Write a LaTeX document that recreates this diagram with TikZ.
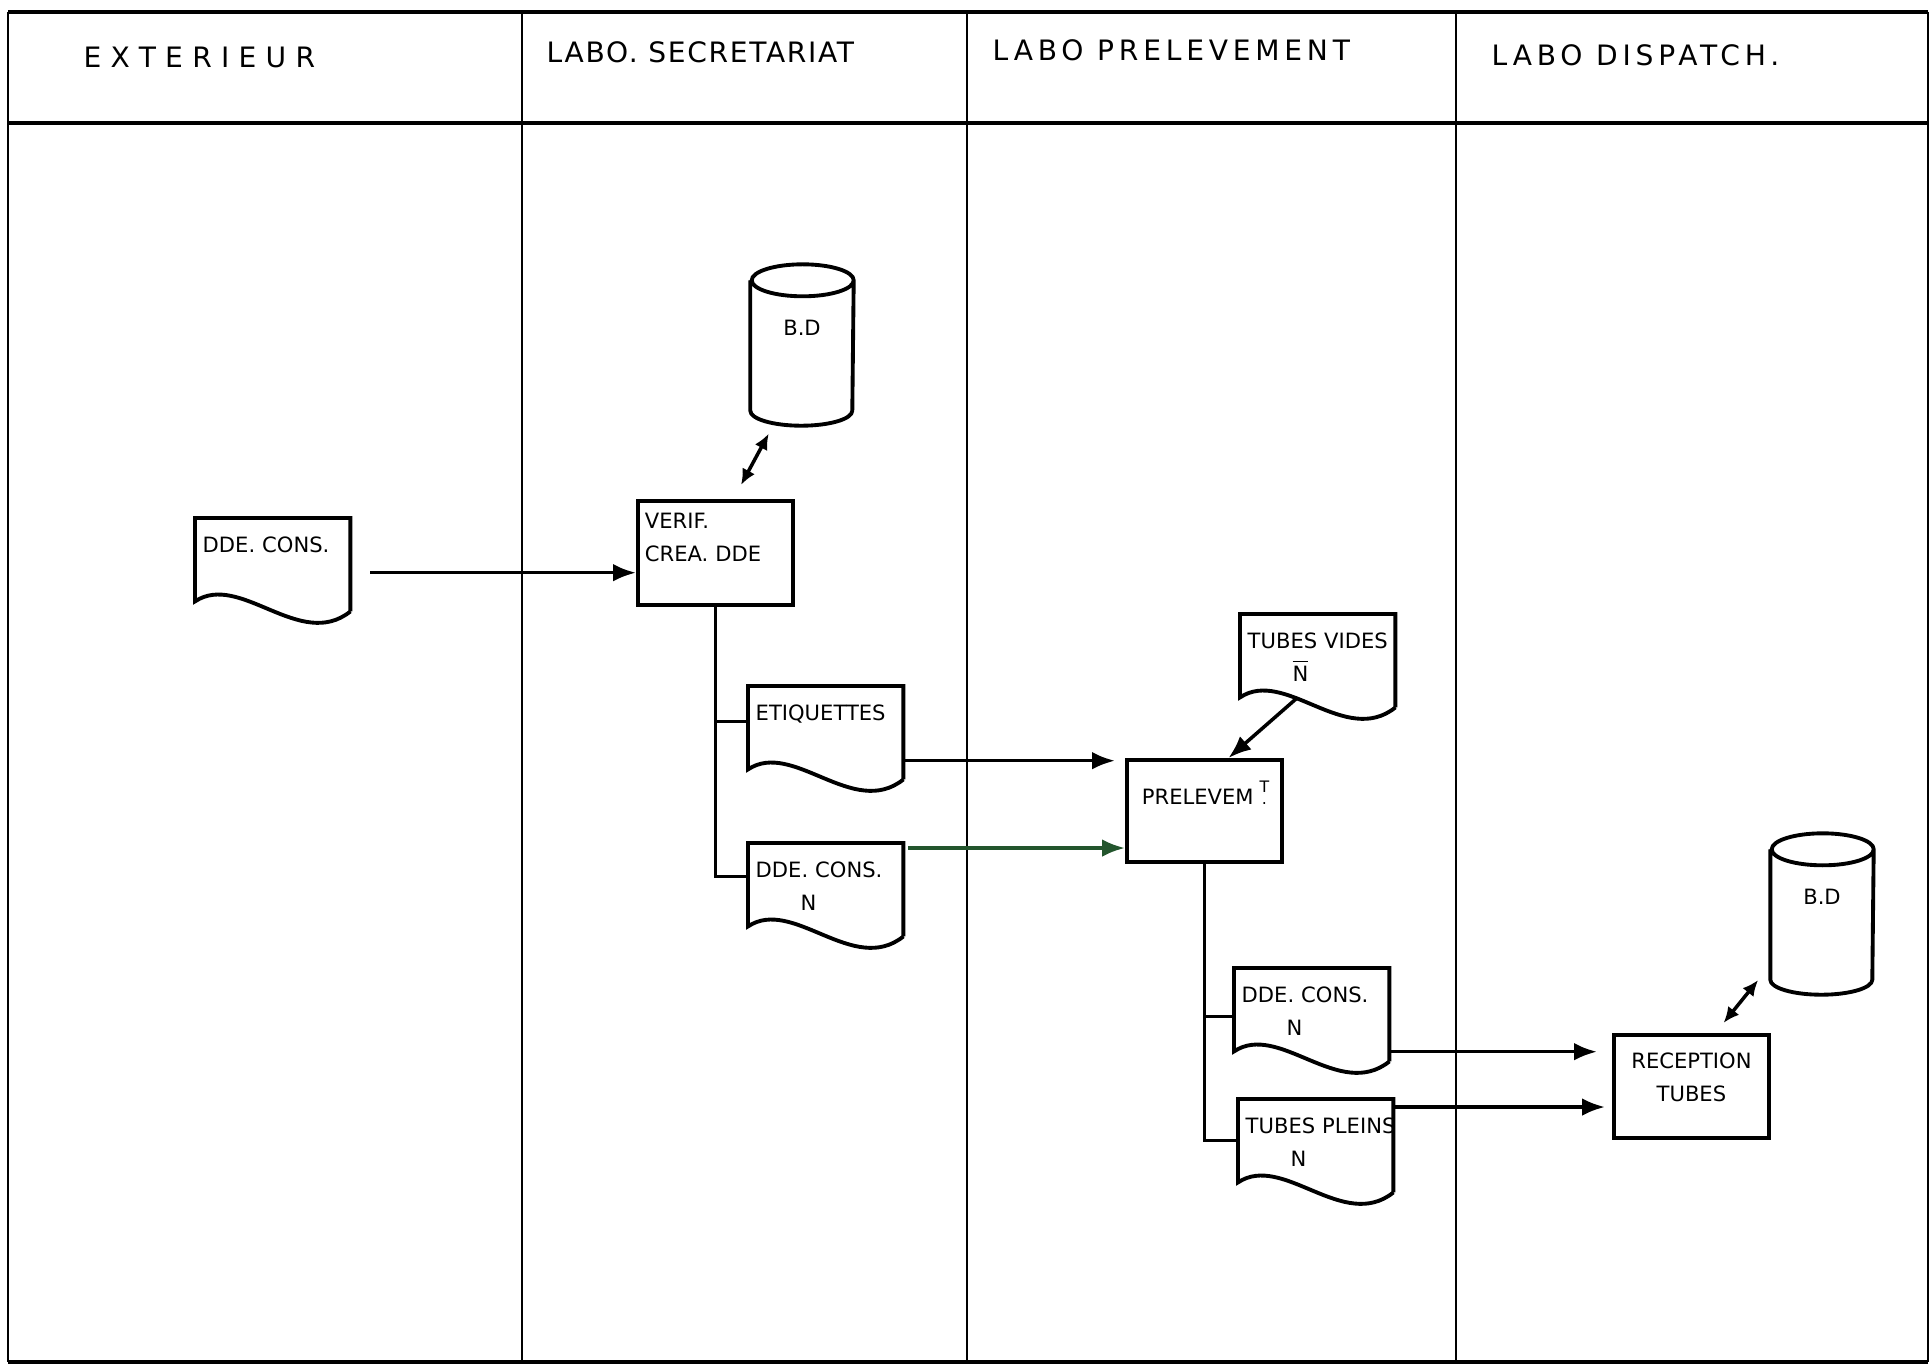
\documentclass[tikz,border=0pt]{standalone}
\usepackage{fontspec}
\setmainfont{DejaVu Sans}
\newfontfamily\lanefont[LetterSpace=17]{DejaVu Sans}
\usetikzlibrary{arrows.meta}
\definecolor{inkgreen}{RGB}{35,85,45}
\newcommand{\chartfont}{\fontsize{6}{9.4}\selectfont}

% document symbol: straight top, wavy bottom
\newcommand{\docline}[1]{%
  \draw[outline] ([yshift=-1mm]#1.south east) -- (#1.north east) -- (#1.north west)
    -- (#1.south west) .. controls +(4.5mm,3mm) and +(-5mm,-4mm) .. ([yshift=-1mm]#1.south east);}
% data base symbol
\newcommand{\dbline}[1]{%
  \draw[outline] ([yshift=-1.6mm]#1.north west) -- ([yshift=1.5mm]#1.south west)
    arc[start angle=180, end angle=360, x radius=5.1mm, y radius=1.5mm]
    -- ([yshift=-1.6mm]#1.north east)
    arc[start angle=0, end angle=360, x radius=5.1mm, y radius=1.6mm];}

\begin{document}
\begin{tikzpicture}[x=0.1mm, y=-0.1mm, >={Latex[length=6.5pt,width=5pt]},
  frame/.style={line width=0.7pt},
  heavy/.style={line width=1.4pt},
  outline/.style={line width=1.1pt},
  link/.style={line width=1pt},
  flow/.style={line width=1pt, ->},
  both/.style={line width=1pt, {Latex[length=4.5pt,width=4pt]}-{Latex[length=4.5pt,width=4pt]}},
  lane/.style={anchor=west, inner sep=0pt, font=\lanefont\fontsize{8}{9}\selectfont},
  doc/.style={anchor=north west, inner xsep=0.7mm, inner ysep=0pt, text width=14mm,
    text height=3.4mm, text depth=4.8mm, align=left, font=\chartfont},
  proc/.style={draw, line width=1.1pt, anchor=north west, inner xsep=0.7mm, inner ysep=0pt,
    text width=14.1mm, font=\chartfont},
  store/.style={inner sep=0pt, minimum width=10.2mm, text height=7mm, text depth=9mm,
    font=\chartfont}]
  \useasboundingbox (0,0) rectangle (1932,1366);

  % swim lanes
  \draw[heavy] (8,12) -- (1928,12);
  \draw[heavy] (8,123) -- (1928,123);
  \draw[heavy] (8,1362) -- (1928,1362);
  \draw[frame] (8,12) -- (8,1362);
  \draw[frame] (1928,12) -- (1928,1362);
  \foreach \x in {522,967,1456}
    \draw[frame] (\x,12) -- (\x,1362);

  \node[lane] (ext) at (83,57) {\addfontfeature{LetterSpace=33}EXTERIEUR};
  \node[lane] (secr) at (546,52) {\addfontfeature{LetterSpace=6}LABO. SECRETARIAT};
  \node[lane] (prel) at (992,50) {LABO PRELEVEMENT};
  \node[lane] (disp) at (1491,55) {LABO DISPATCH.};

  % symbols
  \node[doc] (dde1) at (195,518) {DDE. CONS.};
  \node[proc, text height=2.8mm, text depth=7.6mm, align=left] (verif) at (636,499) {VERIF.\\CREA. DDE};
  \node[store] (bd1) at (802,345) {B.D};
  \node[doc] (etiq) at (748,686) {ETIQUETTES};
  \node[doc] (dde2) at (748,843) {DDE. CONS.\\\hspace*{4.5mm}N};
  \node[proc, text height=4.5mm, text depth=5.7mm, align=left] (prelev) at (1125,758)
    {\hspace*{0.8mm}PRELEVEM\hspace{0.6mm}{\fontsize{4.5}{4.2}\selectfont\shortstack{T\\.}}};
  \node[doc] (tvides) at (1240,614) {TUBES~VIDES\\\hspace*{4.5mm}$\overline{\mbox{N}}$};
  \node[doc] (dde3) at (1234,968) {DDE. CONS.\\\hspace*{4.5mm}N};
  \node[doc] (tpleins) at (1238,1099) {TUBES~PLEINS\\\hspace*{4.5mm}N};
  \node[proc, text height=3.4mm, text depth=6.9mm, align=center] (recep) at (1612,1033) {RECEPTION\\TUBES};
  \node[store] (bd2) at (1822,914) {B.D};

  \docline{dde1}
  \docline{etiq}
  \docline{dde2}
  \docline{tvides}
  \docline{dde3}
  \docline{tpleins}
  \dbline{bd1}
  \dbline{bd2}

  % flows
  \draw[flow] ([xshift=2mm,yshift=-1.3mm]dde1.east) -- ([yshift=-1.3mm]dde1.east -| verif.west);
  \draw[both, shorten <=1.6mm, shorten >=0.9mm] ([xshift=1.8mm]verif.north) -- ([xshift=-2.9mm]bd1.south);
  \draw[link] (verif.south) |- ([yshift=.8mm]dde2.west);
  \draw[link] ([yshift=.6mm]etiq.west) -- ([yshift=.6mm]etiq.west -| verif.south);
  \draw[flow, shorten >=1mm] ([yshift=-3.3mm]etiq.east) -- ([yshift=-3.3mm]etiq.east -| prelev.west);
  \draw[flow, inkgreen] ([xshift=.5mm,yshift=-.5mm]dde2.north east) -- ([yshift=-.5mm]dde2.north east -| prelev.west);
  \draw[flow] ([xshift=-2mm]tvides.south) -- ([xshift=2.4mm]prelev.north);
  \draw[link] (prelev.south) |- (tpleins.west);
  \draw[link] ([yshift=-.7mm]dde3.west) -- ([yshift=-.7mm]dde3.west -| prelev.south);
  \draw[flow, shorten >=1.5mm] ([yshift=-4.2mm]dde3.east) -- ([yshift=-4.2mm]dde3.east -| recep.west);
  \draw[flow, shorten >=.7mm] ([yshift=-.8mm]tpleins.north east) -- ([yshift=-.8mm]tpleins.north east -| recep.west);
  \draw[both, shorten <=1.3mm, shorten >=.3mm] ([xshift=2.4mm]recep.north) -- ([xshift=-6.2mm,yshift=1.7mm]bd2.south);
\end{tikzpicture}
\end{document}
